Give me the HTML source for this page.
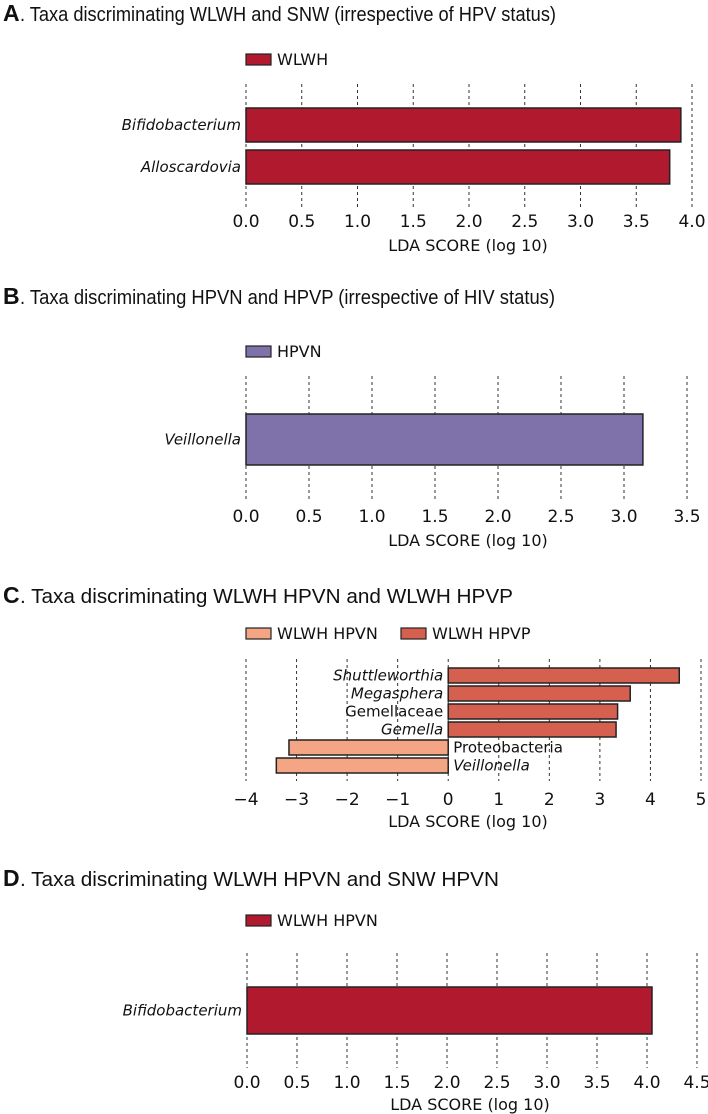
<!DOCTYPE html>
<html><head><meta charset="utf-8"><style>
html,body{margin:0;padding:0;background:#fff;}
svg{display:block;}
.ttl{font-family:"Liberation Sans",sans-serif;font-size:20px;fill:#111;}
.let{font-family:"Liberation Sans",sans-serif;font-size:23px;font-weight:bold;fill:#111;}
.tick{font-family:"DejaVu Sans",sans-serif;font-size:17px;fill:#111;}
.axt{font-family:"DejaVu Sans",sans-serif;font-size:16px;fill:#111;}
.cat{font-family:"DejaVu Sans",sans-serif;font-size:15px;fill:#111;}
.leg{font-family:"DejaVu Sans",sans-serif;font-size:16px;fill:#111;}
</style></head><body>
<svg id="fig" width="708" height="1114" viewBox="0 0 708 1114" xmlns="http://www.w3.org/2000/svg">
<text class="let" x="3" y="21">A</text>
<text class="ttl" x="20" y="21" textLength="536" lengthAdjust="spacingAndGlyphs">. Taxa discriminating WLWH and SNW (irrespective of HPV status)</text>
<text class="let" x="3" y="304">B</text>
<text class="ttl" x="20" y="304" textLength="535" lengthAdjust="spacingAndGlyphs">. Taxa discriminating HPVN and HPVP (irrespective of HIV status)</text>
<text class="let" x="3" y="603">C</text>
<text class="ttl" x="20" y="603" textLength="493" lengthAdjust="spacingAndGlyphs">. Taxa discriminating WLWH HPVN and WLWH HPVP</text>
<text class="let" x="3" y="886">D</text>
<text class="ttl" x="20" y="886" textLength="479" lengthAdjust="spacingAndGlyphs">.  Taxa discriminating WLWH HPVN and SNW HPVN</text>
</svg>
<script>
// Panel A data
const aCategories = ["Bifidobacterium", "Alloscardovia"];
const aValues = [3.9, 3.8];
const aTicks = ["0.0","0.5","1.0","1.5","2.0","2.5","3.0","3.5","4.0"];
// Panel B data
const bCategories = ["Veillonella"];
const bValues = [3.15];
const bTicks = ["0.0","0.5","1.0","1.5","2.0","2.5","3.0","3.5"];
// Panel C data
const cCategories = ["Shuttleworthia","Megasphera","Gemellaceae","Gemella","Proteobacteria","Veillonella"];
const cValues = [4.57, 3.6, 3.35, 3.32, -3.15, -3.4];
const cItalic = [true, true, false, true, false, true];
const cTicks = ["\u22124","\u22123","\u22122","\u22121","0","1","2","3","4","5"];
// Panel D data
const dCategories = ["Bifidobacterium"];
const dValues = [4.05];
const dTicks = ["0.0","0.5","1.0","1.5","2.0","2.5","3.0","3.5","4.0","4.5"];

const NS = "http://www.w3.org/2000/svg";
const svg = document.getElementById("fig");
function mk(tag, attrs, txt){
  const e = document.createElementNS(NS, tag);
  for (const k in attrs) e.setAttribute(k, attrs[k]);
  if (txt !== undefined) e.textContent = txt;
  svg.appendChild(e);
  return e;
}
function panel(p, cats, vals, ticks, cfg){
  const x = v => cfg.x0 + (v - cfg.vmin) * (cfg.x1 - cfg.x0) / (cfg.vmax - cfg.vmin);
  ticks.forEach((t, i) => {
    const v = cfg.vmin + i * cfg.step;
    const g = mk("line", {x1:x(v), x2:x(v), y1:cfg.gTop, y2:cfg.gBot, stroke:"#333", "stroke-width":1, "stroke-dasharray":"3,3"});
    
    
    const tl = mk("text", {x:x(v), y:cfg.tickY, "text-anchor":"middle", class:"tick"}, t);
    
    
  });
  const at = mk("text", {x:cfg.axtX, y:cfg.axtY, "text-anchor":"middle", class:"axt"}, "LDA SCORE (log 10)");
  
  
  vals.forEach((v, i) => {
    const top = cfg.barTop + i * cfg.pitch;
    const xa = x(Math.min(0, v)), xb = x(Math.max(0, v));
    const b = mk("rect", {x:xa, y:top, width:xb - xa, height:cfg.barH, fill: v < 0 ? cfg.negColor : cfg.color, stroke:"#222", "stroke-width":1.5});
    
    
    const ital = cfg.italic ? cfg.italic[i] : true;
    const lbl = mk("text", {
      x: v < 0 ? x(0) + 5 : x(0) - 5,
      y: top + cfg.barH / 2 + 5,
      "text-anchor": v < 0 ? "start" : "end",
      class: "cat", "font-style": ital ? "italic" : "normal"
    }, cats[i]);
    
    
  });
  cfg.legend.forEach(l => {
    const s = mk("rect", {x:l.x, y:cfg.legY - 5, width:25, height:11, fill:l.color, stroke:"#222", "stroke-width":1.2});
    
    
    const t = mk("text", {x:l.x + 31, y:cfg.legY + 6, class:"leg"}, l.label);
    
    
  });
}
panel("panel-a", aCategories, aValues, aTicks, {
  x0:246, x1:692, vmin:0, vmax:4.0, step:0.5, gTop:84, gBot:207, tickY:227, axtX:468, axtY:251,
  barTop:108, barH:34, pitch:42, color:"#b0192e",
  legY:59, legend:[{x:246, color:"#b0192e", label:"WLWH"}]
});
panel("panel-b", bCategories, bValues, bTicks, {
  x0:246, x1:687, vmin:0, vmax:3.5, step:0.5, gTop:376, gBot:500, tickY:522, axtX:468, axtY:546,
  barTop:414, barH:51, pitch:0, color:"#7f72aa",
  legY:351, legend:[{x:246, color:"#7f72aa", label:"HPVN"}]
});
panel("panel-c", cCategories, cValues, cTicks, {
  x0:246, x1:701, vmin:-4, vmax:5, step:1, gTop:659, gBot:781, tickY:805, axtX:468, axtY:827,
  barTop:668, barH:15, pitch:18, color:"#d66050", negColor:"#f3a584", italic:cItalic,
  legY:633, legend:[{x:246, color:"#f3a584", label:"WLWH HPVN"},{x:401, color:"#d66050", label:"WLWH HPVP"}]
});
panel("panel-d", dCategories, dValues, dTicks, {
  x0:247, x1:697, vmin:0, vmax:4.5, step:0.5, gTop:953, gBot:1068, tickY:1088, axtX:470, axtY:1110,
  barTop:987, barH:47, pitch:0, color:"#b0192e",
  legY:920, legend:[{x:246, color:"#b0192e", label:"WLWH HPVN"}]
});
</script>
</body></html>
